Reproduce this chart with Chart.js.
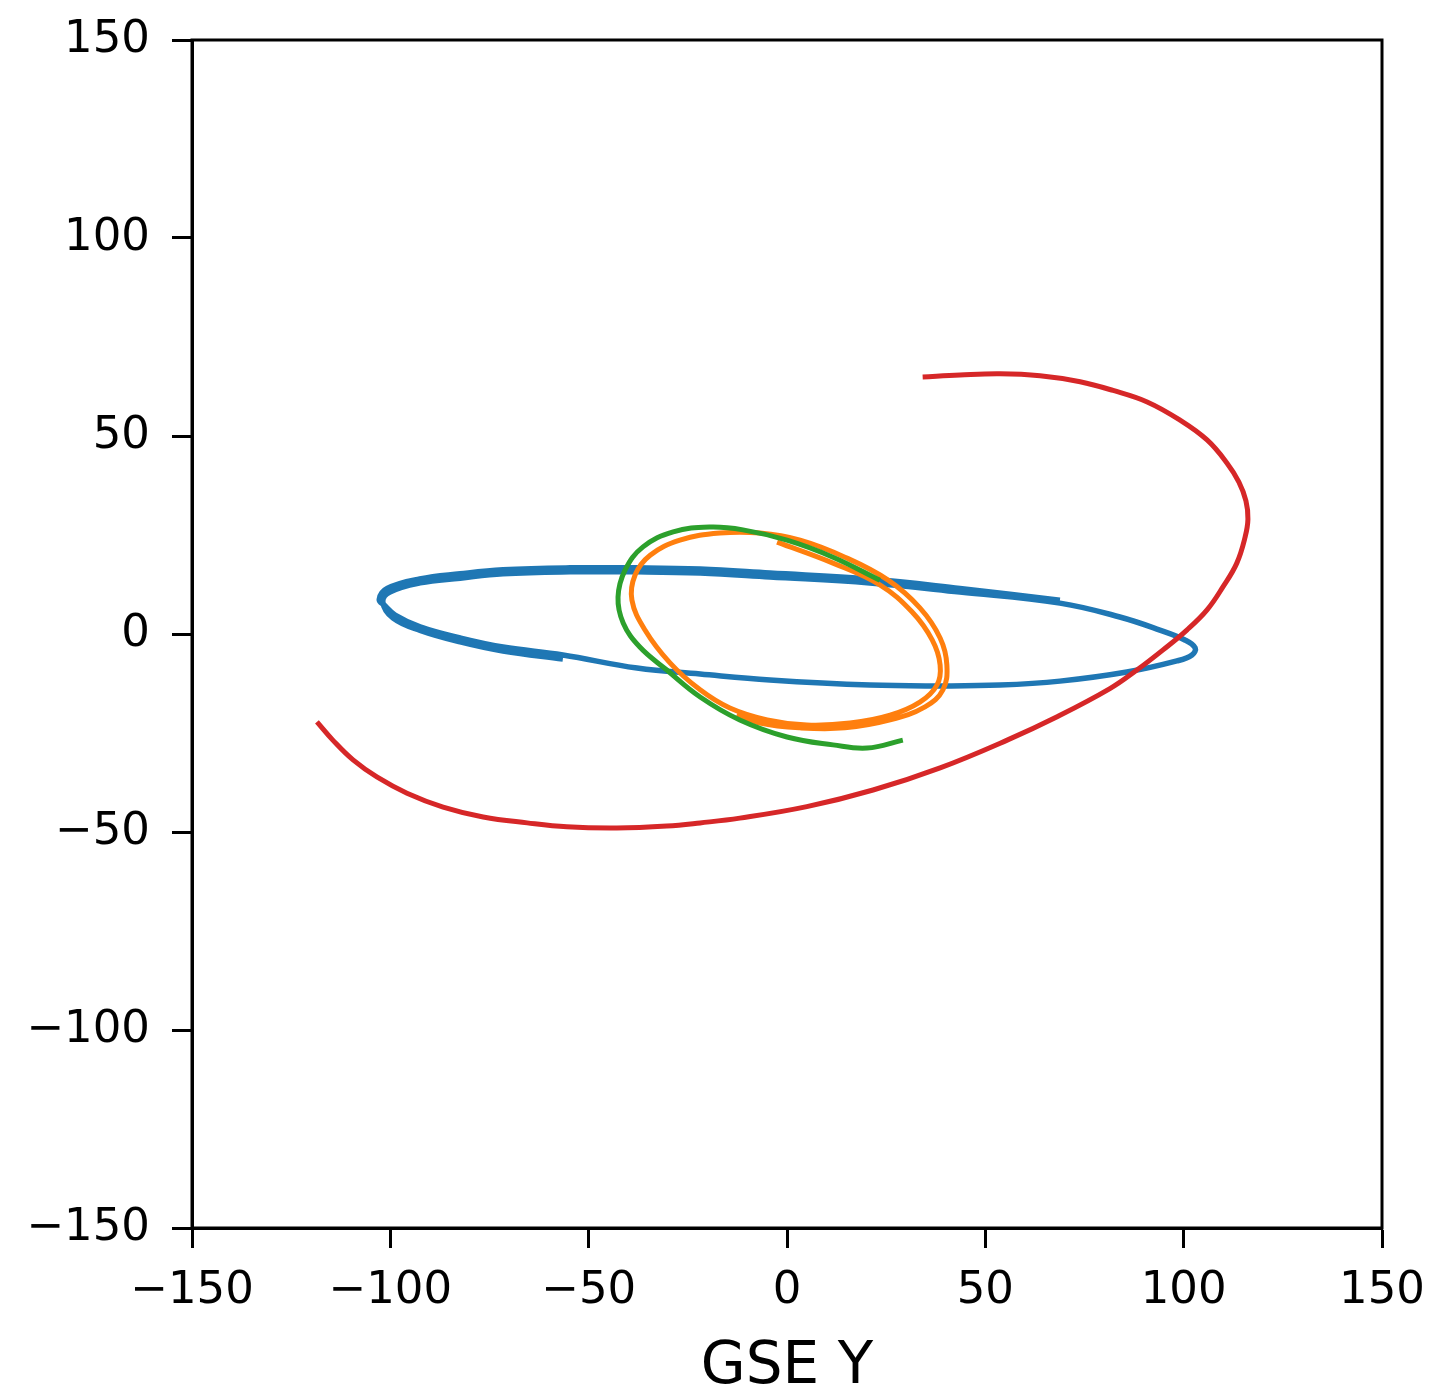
<!DOCTYPE html>
<html>
<head>
<meta charset="utf-8">
<script src="https://cdn.jsdelivr.net/npm/chart.js@4.4.1/dist/chart.umd.min.js"></script>
<style>
  html, body { margin: 0; padding: 0; background: #fff; }
  #wrap { width: 1435px; height: 1398px; }
</style>
</head>
<body>
<div id="wrap"><canvas id="orbitChart" width="1435" height="1398"></canvas></div>
<script>
// orbit tracks projected on the GSE Y / GSE Z plane
var tickValues = [-150, -100, -50, 0, 50, 100, 150];
var xTitle = 'GSE Y';

var blueGseY = [-56.5, -71.6, -82.4, -92.5, -99.3,
  -101.9, -100.1, -92.5, -82.4, -71.6, -54.7, -37.8, -21.9, -4.3, 20.9, 43.6, 68.8, 83.9, 94.0, 100.3, 102.9,
  102.1, 98.3, 85.7, 68.8, 53.7, 38.6, 20.9, -4.3, -21.9, -37.8, -56.5, -71.6, -82.4, -92.5, -98.8, -101.3,
  -102.8, -100.8, -92.6, -82.4, -71.6, -54.7, -37.8, -21.9, -4.3, 20.9, 43.6, 68.8];
var blueGseZ = [-6.3, -4.3, -2.0, 0.9, 4.0,
  8.1, 10.6, 12.9, 14.1, 15.2, 15.7, 15.7, 15.4, 14.4, 12.9, 10.6, 7.8, 4.3, 1.0, -1.5, -3.5,
  -5.3, -6.8, -9.6, -11.9, -12.9, -13.1, -12.9, -11.6, -10.1, -8.6, -5.3, -3.3, -1.0, 1.8, 4.8, 7.1,
  8.7, 11.5, 13.9, 15.2, 16.2, 16.7, 16.7, 16.4, 15.4, 13.9, 11.5, 8.5];

var orangeGseY = [-2.5, 11.6, 23.4, 31.5, 36.6, 38.6, 37.8, 33.5, 26.0, 15.9, 5.0, -5.0, -14.4, -21.9, -29.5,
  -35.8, -39.1, -38.3, -34.5, -27.0, -16.9, -6.8, 3.3, 14.6, 25.5, 33.5, 38.6, 40.3, 39.3, 34.8, 26.0, 14.6,
  3.3, -6.8, -12.6];
var orangeGseZ = [23.2, 17.9, 12.4, 5.6, -1.5, -7.8, -12.9, -17.2, -20.5, -22.5, -23.0, -21.7, -18.7, -14.1, -7.3,
  1.0, 8.6, 14.9, 19.9, 23.7, 25.5, 25.5, 23.7, 19.4, 13.6, 6.6, -1.0, -7.8, -14.1, -18.4, -21.7, -23.7,
  -23.7, -22.5, -20.2];

var greenGseY = [23.4, 11.6, 0.0, -11.1, -19.4, -28.7, -36.3, -40.8, -42.6, -41.3, -37.1, -30.3, -21.9, -11.9,
  0.0, 11.6, 20.2, 29.2];
var greenGseZ = [13.6, 19.4, 23.7, 26.3, 27.0, 25.8, 22.0, 16.2, 9.3, 2.8, -3.3, -9.1, -15.9, -21.7,
  -26.0, -28.0, -28.8, -26.8];

var redGseY = [34.2, 43.6, 53.7, 63.8, 73.9, 82.2, 90.8, 99.1, 105.9, 110.9, 113.9, 115.7, 116.2, 115.5,
  113.4, 109.9, 105.9, 100.8, 94.8, 88.2, 81.4, 68.1, 55.5, 38.6, 21.7, 5.0, -11.9, -21.9, -30.3, -42.9,
  -55.5, -65.5, -76.6, -86.7, -95.8, -103.4, -109.4, -114.5, -118.5];
var redGseZ = [64.9, 65.4, 65.7, 65.2, 63.7, 61.5, 58.6, 54.0, 49.0, 43.2, 38.4, 33.6, 29.0, 24.5,
  17.9, 11.9, 6.1, 1.0, -4.0, -9.1, -13.8, -20.9, -26.8, -33.8, -39.4, -43.6, -46.5, -47.7, -48.5, -49.0,
  -48.7, -47.7, -46.2, -43.7, -40.2, -36.1, -31.8, -26.8, -22.2];

function toPoints(xs, ys) {
  return xs.map(function(x, i) { return {x: x, y: ys[i]}; });
}

function track(xs, ys, color, width, order) {
  return {
    data: toPoints(xs, ys),
    showLine: true,
    borderColor: color,
    borderWidth: width,
    borderCapStyle: 'butt',
    borderJoinStyle: 'round',
    pointRadius: 0,
    tension: 0.4,
    fill: false,
    order: order
  };
}

// top and right spines around the plot area
var frame = {
  id: 'frame',
  afterDraw: function(chart) {
    var a = chart.chartArea;
    var ctx = chart.ctx;
    ctx.save();
    ctx.strokeStyle = '#000';
    ctx.lineWidth = 3;
    ctx.strokeRect(a.left, a.top, a.right - a.left, a.bottom - a.top);
    ctx.restore();
  }
};

function axis(extra) {
  var opts = {
    type: 'linear',
    min: -150,
    max: 150,
    afterBuildTicks: function(scale) {
      scale.ticks = tickValues.map(function(v) { return {value: v}; });
    },
    grid: {
      display: true,
      drawOnChartArea: false,
      drawTicks: true,
      tickLength: 20,
      tickColor: '#000',
      tickWidth: 3
    },
    border: { display: true, color: '#000', width: 3 },
    ticks: {
      color: '#000',
      font: { family: 'DejaVu Sans', size: 45 },
      maxRotation: 0,
      autoSkip: false,
      callback: function(v) { return String(v).replace('-', '\u2212'); }
    }
  };
  for (var k in extra) opts[k] = extra[k];
  return opts;
}

// fixed scale sizes so the plot box lands at the same place every time
var xAxis = axis({
  position: 'bottom',
  afterFit: function(scale) {
    scale.height = 170;
    scale.paddingLeft = 0;
    scale.paddingRight = 0;
  },
  title: {
    display: true,
    text: xTitle,
    color: '#000',
    font: { family: 'DejaVu Sans', size: 58, lineHeight: 1.0 },
    padding: { top: 0, bottom: 1 }
  }
});
xAxis.ticks.padding = 16;

var yAxis = axis({
  position: 'left',
  afterFit: function(scale) {
    scale.width = 192;
    scale.paddingTop = 0;
    scale.paddingBottom = 0;
  }
});
yAxis.ticks.padding = 22;

new Chart(document.getElementById('orbitChart'), {
  type: 'scatter',
  data: {
    datasets: [
      track(blueGseY, blueGseZ, '#1f77b4', 5.5, 4),
      track(orangeGseY, orangeGseZ, '#ff7f0e', 5, 3),
      track(greenGseY, greenGseZ, '#2ca02c', 5, 2),
      track(redGseY, redGseZ, '#d62728', 5, 1)
    ]
  },
  options: {
    responsive: false,
    animation: false,
    layout: { padding: { top: 40, right: 53, left: 0, bottom: 0 } },
    plugins: {
      legend: { display: false },
      tooltip: { enabled: false }
    },
    scales: { x: xAxis, y: yAxis }
  },
  plugins: [frame]
});
</script>
</body>
</html>
